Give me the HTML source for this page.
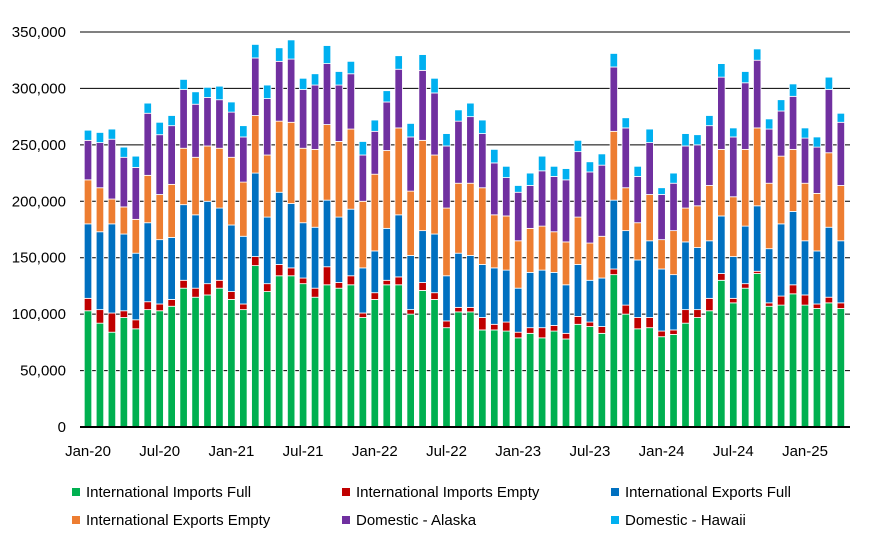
<!DOCTYPE html>
<html><head><meta charset="utf-8"><style>
body{margin:0;background:#fff;font-family:"Liberation Sans",Arial,sans-serif}
svg{display:block}
</style></head><body>
<svg id="chart" width="876" height="545" xmlns="http://www.w3.org/2000/svg"></svg>
<script>
const months=["Jan-20","Jul-20","Jan-21","Jul-21","Jan-22","Jul-22","Jan-23","Jul-23","Jan-24","Jul-24","Jan-25"];
const seriesNames=["International Imports Full","International Imports Empty","International Exports Full","International Exports Empty","Domestic - Alaska","Domestic - Hawaii"];
const yTicks=[0,50000,100000,150000,200000,250000,300000,350000];
const impFull=[103,92,84,97,87,104,103,107,123,115,117,123,113,104,143,120,134,134,127,115,126,123,126,97,113,126,126,100,121,113,88,102,102,86,86,85,79,83,79,85,78,91,89,83,135,100,87,88,80,82,92,97,103,130,110,123,136,107,108,118,108,105,110,105];
const impEmpty=[11,12,17,6,8,7,6,6,7,8,10,7,7,5,8,7,10,7,5,8,16,5,8,4,6,4,7,4,7,6,6,4,4,11,5,8,5,5,9,5,5,7,4,6,5,8,10,9,5,4,12,7,11,6,4,4,2,3,8,8,9,4,5,5];
const expFull=[66,69,79,68,59,70,57,55,67,65,73,64,59,60,74,59,64,57,49,54,59,58,59,40,37,46,55,48,46,52,40,48,46,47,50,46,39,49,51,47,43,46,37,43,61,66,51,68,55,49,60,55,51,51,37,51,58,48,64,65,48,47,62,55];
const expEmpty=[39,39,22,24,30,42,40,47,50,51,49,53,60,48,51,55,63,72,66,69,67,67,71,59,68,69,77,57,80,70,60,62,64,68,47,48,42,39,39,36,38,42,33,37,61,38,33,41,26,39,30,37,49,59,53,68,69,58,60,55,51,51,66,49];
const alaska=[35,40,53,44,46,55,53,52,52,47,43,43,40,40,51,50,53,56,52,57,54,50,49,41,38,43,52,48,62,55,55,55,59,48,46,34,43,38,49,49,55,58,63,63,57,53,41,46,40,42,55,54,53,64,53,59,60,48,40,47,40,41,56,56];
const hawaii=[9,9,9,9,10,9,11,9,9,11,9,12,9,10,12,12,12,17,10,10,16,12,11,12,10,10,12,12,14,13,11,10,12,12,12,10,6,11,13,9,10,10,9,10,12,9,9,12,6,9,11,9,9,12,8,10,10,9,10,11,9,9,11,8];
const series=[impFull,impEmpty,expFull,expEmpty,alaska,hawaii];
const colors=["#00B050","#C00000","#0070C0","#ED7D31","#7030A0","#00B0F0"];
const NS="http://www.w3.org/2000/svg";
const svg=document.getElementById('chart');
const y0=427,y1=32,x0=80,x1=850;
const yS=v=>y0-(v/350000)*(y0-y1);
const xS=i=>88+i*11.95;
const bw=7.5;
function mk(t,a){const e=document.createElementNS(NS,t);for(const k in a)e.setAttribute(k,a[k]);svg.appendChild(e);return e;}
yTicks.forEach(t=>{
  if(t>0){const l=mk('line',{x1:x0,x2:x1,y1:yS(t),y2:yS(t),stroke:'#000','stroke-width':1});
  
  }
  const tx=mk('text',{x:66,y:yS(t)+5,'text-anchor':'end','font-size':15,fill:'#000'});
  tx.textContent=t.toLocaleString('en-US');
  
  
});
impFull.forEach((_,i)=>{
  let cum=0;
  series.forEach((s,k)=>{
    const v=s[i]*1000;
    const r=mk('rect',{x:xS(i)-bw/2,y:yS(cum+v),width:bw,height:yS(cum)-yS(cum+v),fill:colors[k],stroke:'#fff','stroke-width':0.8});
    
    
    cum+=v;
  });
});
const ax=mk('line',{x1:x0,x2:x1,y1:y0,y2:y0,stroke:'#000','stroke-width':2});


months.forEach((m,j)=>{
  const t=mk('text',{x:xS(j*6),y:456,'text-anchor':'middle','font-size':15,fill:'#000'});
  t.textContent=m;
  
  
});
const lx=[72,342,611],ly=[492,520];
seriesNames.forEach((n,k)=>{
  const x=lx[k%3],y=ly[Math.floor(k/3)];
  const r=mk('rect',{x:x,y:y-4,width:8,height:8,fill:colors[k]});
  
  
  const t=mk('text',{x:x+14,y:y+5,'font-size':15,fill:'#000'});
  t.textContent=n;
  
  
});
</script>
</body></html>
